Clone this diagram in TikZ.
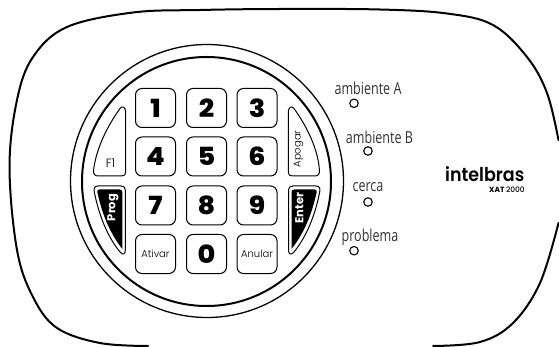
\documentclass[tikz,border=0pt]{standalone}
\usepackage{fontspec}
\setmainfont{Open Sans}
\newfontfamily\labelfont[FakeStretch=0.76]{Open Sans}
\newfontfamily\digitfont[FakeStretch=1.08]{Poppins ExtraBold}
\newfontfamily\keyfont{Poppins Light}
\newfontfamily\logofont[FakeStretch=0.92]{Poppins SemiBold}
\newfontfamily\logobold{Poppins Bold}
\newfontfamily\modelfont{Poppins Medium}
\tikzset{
  keybox/.style={draw=black,line width=1pt,rounded corners=6.5pt,minimum width=40pt,minimum height=39pt,inner sep=0pt,fill=white},
  digit/.style={font=\digitfont\fontsize{25}{25}\selectfont},
  word/.style={font=\keyfont\fontsize{10}{10}\selectfont},
  led/.style={circle,draw=black,line width=1.1pt,minimum size=8.5pt,inner sep=0pt},
  ledlabel/.style={font=\labelfont\fontsize{16.5}{16.5}\selectfont,inner sep=0pt,text=black!80},
  softlabel/.style={font=\logobold\fontsize{11.5}{12}\selectfont,text=white,rotate=90},
  body/.style={line width=2pt,line cap=round,line join=round},
  softkey/.style={draw=black,line width=1pt,line join=round},
}
\begin{document}
\begin{tikzpicture}[x=1pt,y=-1pt]
\useasboundingbox (0,0) rectangle (559,347);
% housing
\draw[body] plot[smooth,tension=0.6] coordinates {(148,346) (100,343) (57,328) (33,297) (17,250) (9.5,167) (17,100) (33,57) (67,27) (133,12.5) (200,10) (280,9) (380,9.5) (447,13.5) (493,25) (527,57) (547,93) (558.5,140)};
\draw[body] plot[smooth,tension=0.6] coordinates {(558.5,223) (540,283) (513,323) (480,342) (433,346)};
% rings
\draw[line width=1.3pt] (207,181) circle[radius=136.5];
\draw[line width=2pt] (206.5,181.5) circle[radius=124.5];
% keys
\node[keybox] (k1) at (155.5,108) {}; \node[digit] at (k1) {1};
\node[keybox] (k2) at (206.5,108) {}; \node[digit] at (k2) {2};
\node[keybox] (k3) at (257,108) {}; \node[digit] at (k3) {3};
\node[keybox] (k4) at (155.5,156.5) {}; \node[digit] at (k4) {4};
\node[keybox] (k5) at (206.5,156.5) {}; \node[digit] at (k5) {5};
\node[keybox] (k6) at (257,156.5) {}; \node[digit] at (k6) {6};
\node[keybox] (k7) at (155.5,205.5) {}; \node[digit] at (k7) {7};
\node[keybox] (k8) at (206.5,205.5) {}; \node[digit] at (k8) {8};
\node[keybox] (k9) at (257,205.5) {}; \node[digit] at (k9) {9};
\node[keybox] (ka) at (155.5,254) {}; \node[word] at (ka) {Ativar};
\node[keybox] (k0) at (206.5,254) {}; \node[digit] at (k0) {0};
\node[keybox] (kn) at (257,254) {}; \node[word] at (kn) {Anular};
% F1 and Apogar
\draw[softkey] (125.7,112) .. controls (125.7,107) and (122,105.5) .. (120,108.5) .. controls (106,128) and (96,150) .. (93.6,170) .. controls (93,174) and (95,176) .. (98,176) -- (121.7,176) .. controls (124.5,176) and (125.7,174.5) .. (125.7,172) -- cycle;
\draw[softkey] (288.3,112) .. controls (288.3,107) and (292,105.5) .. (294,108.5) .. controls (308,128) and (318,150) .. (319.4,170) .. controls (320,174) and (318,176) .. (315,176) -- (292.3,176) .. controls (289.5,176) and (288.3,174.5) .. (288.3,172) -- cycle;
\node[word,font=\keyfont\fontsize{12}{12}\selectfont] (f1) at (110.5,163.5) {F1};
\node[word,rotate=90] (apo) at (298.5,149) {Apogar};
% Prog and Enter outlines
\draw[softkey] (125.3,190) .. controls (125.3,187.5) and (124,186) .. (121,186) -- (98,186) .. controls (94,186) and (93.5,189) .. (94.5,193) .. controls (99,215) and (107,236) .. (120,252) .. controls (123,255.5) and (125.3,254.5) .. (125.3,250) -- cycle;
\draw[softkey] (288.5,190) .. controls (288.5,187.5) and (290,186) .. (293,186) -- (316,186) .. controls (320,186) and (320.5,189) .. (319.5,193) .. controls (315,215) and (307,236) .. (294,252) .. controls (291,255.5) and (288.5,254.5) .. (288.5,250) -- cycle;
% black fills
\fill[black] (122.3,192) .. controls (122.3,190) and (121,189.5) .. (119.5,189.5) -- (99,189.5) .. controls (97.3,189.5) and (97,191.5) .. (97.5,193) .. controls (102,213) and (109,232) .. (122.3,249) -- cycle;
\fill[black] (291.5,192) .. controls (291.5,190) and (293,189.5) .. (294.5,189.5) -- (315,189.5) .. controls (316.7,189.5) and (317,191.5) .. (316.5,193) .. controls (312,213) and (305,232) .. (291.5,249) -- cycle;
\node[softlabel] (prog) at (113,207.5) {Prog};
\node[softlabel] (ent) at (299.5,208) {Enter};
% LEDs
\node[led] (la) at (354,103.3) {};
\node[led] (lb) at (368,151) {};
\node[led] (lc) at (368,202) {};
\node[led] (lp) at (354,250.7) {};
\node[ledlabel] (ta) at (368,88) {ambiente A};
\node[ledlabel] (tb) at (379.5,137) {ambiente B};
\node[ledlabel] (tc) at (368,187.5) {cerca};
\node[ledlabel] (tp) at (370,237) {problema};
% logo
\node[font=\logofont\fontsize{19}{19}\selectfont,inner sep=0pt,anchor=base east] (logo) at (524.5,181.5) {intelbras};
\node[font=\logobold\fontsize{7.5}{8}\selectfont,inner sep=0pt,anchor=base east] (model) at (525,192.5) {XAT {\modelfont 2000}};
\end{tikzpicture}
\end{document}
